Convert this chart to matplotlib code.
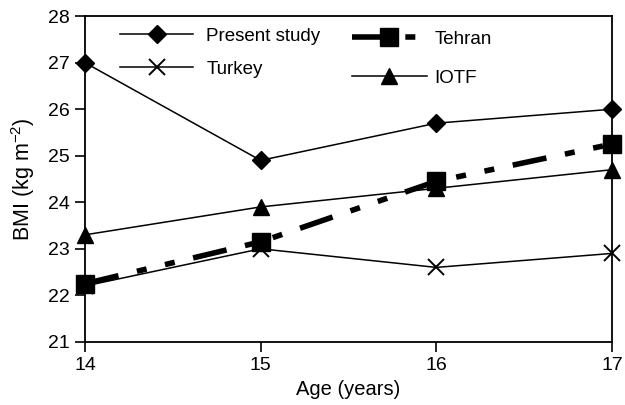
import matplotlib
matplotlib.use("Agg")
import matplotlib.pyplot as plt
from matplotlib.lines import Line2D

plt.rcParams['font.family'] = ['Liberation Sans', 'DejaVu Sans']
plt.rcParams['mathtext.fontset'] = 'custom'
plt.rcParams['mathtext.rm'] = 'Liberation Sans'

ages = [14, 15, 16, 17]
present_study = [27.0, 24.9, 25.7, 26.0]
turkey = [22.2, 23.0, 22.6, 22.9]
tehran = [22.25, 23.15, 24.45, 25.25]
iotf = [23.3, 23.9, 24.3, 24.7]
yticks = [21, 22, 23, 24, 25, 26, 27, 28]

fig = plt.figure(figsize=(6.25, 4.05), dpi=100)
ax = fig.add_axes([0.136, 0.156, 0.843, 0.804])

lw = 1.1
l1, = ax.plot(ages, present_study, color='black', lw=lw, marker='D', markersize=9,
              label='Present study', clip_on=False, zorder=3)
l2, = ax.plot(ages, turkey, color='black', lw=lw, marker='x', markersize=11, mew=1.4,
              label='Turkey', clip_on=False, zorder=3)
l3, = ax.plot(ages, tehran, color='black', lw=4.0, marker='s', markersize=13,
              label='Tehran', clip_on=False, zorder=4)
l3.set_dashes([6.2, 3.4, 1.8, 3.4, 1.8, 3.4])
l4, = ax.plot(ages, iotf, color='black', lw=lw, marker='^', markersize=11,
              label='IOTF', clip_on=False, zorder=3)

ax.set_xlim(14, 17)
ax.set_ylim(21, 28)
ax.set_xticks(ages)
ax.set_yticks(yticks)
ax.tick_params(axis='both', labelsize=14, length=7, width=1.2, direction='out', pad=4)
for s in ax.spines.values():
    s.set_linewidth(1.3)

ax.set_xlabel('Age (years)', fontsize=14.5, labelpad=4)
ax.set_ylabel(r'BMI (kg m$^{\mathrm{-2}}$)', fontsize=15.5, labelpad=8)

leg1 = ax.legend(handles=[l1, l2], loc='upper left', bbox_to_anchor=(0.045, 1.0),
                 frameon=False, fontsize=13.5, handlelength=3.9, labelspacing=0.85,
                 handletextpad=0.7, borderaxespad=0.2)
ax.add_artist(leg1)
leg2 = ax.legend(handles=[l3, l4], loc='upper left', bbox_to_anchor=(0.485, 0.99),
                 frameon=False, fontsize=13.5, handlelength=4.0, labelspacing=1.15,
                 handletextpad=0.4, borderaxespad=0.2)

fig.savefig('out.png', dpi=100)
